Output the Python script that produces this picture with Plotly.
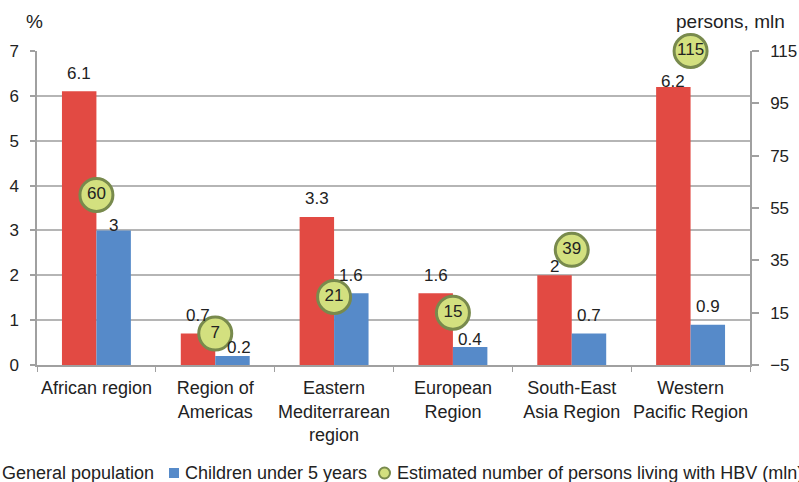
import plotly.graph_objects as go

# Data
regions = [
    "African region",
    "Region of<br>Americas",
    "Eastern<br>Mediterrarean<br>region",
    "European<br>Region",
    "South-East<br>Asia Region",
    "Western<br>Pacific Region",
]
general_population = [6.1, 0.7, 3.3, 1.6, 2, 6.2]
children_under_5 = [3, 0.2, 1.6, 0.4, 0.7, 0.9]
hbv_persons_mln = [60, 7, 21, 15, 39, 115]

left_ticks = [0, 1, 2, 3, 4, 5, 6, 7]
right_ticks = [-5, 15, 35, 55, 75, 95, 115]

# Styling
RED = "#e24a43"
BLUE = "#568ac9"
MARKER_FILL = "#d3e07f"
MARKER_LINE = "#788a4d"
TEXT = "#222222"
GRID = "#b5b5b5"
AXIS = "#a0a0a0"
FONT = "Liberation Sans, Arial, sans-serif"

W, H = 799, 482
M = dict(l=37, r=49, t=51, b=117)
PW = W - M["l"] - M["r"]
PH = H - M["t"] - M["b"]


def px_x(px):
    return (px - M["l"]) / PW


def px_y(py):
    return (H - M["b"] - py) / PH


fig = go.Figure()

fig.add_trace(go.Bar(
    x=regions, y=general_population, name="General population",
    marker=dict(color=RED, line=dict(width=0)), showlegend=False,
))
fig.add_trace(go.Bar(
    x=regions, y=children_under_5, name="Children under 5 years",
    marker=dict(color=BLUE, line=dict(width=0)), showlegend=False,
))
fig.add_trace(go.Scatter(
    x=regions, y=hbv_persons_mln, yaxis="y2", mode="markers+text",
    name="Estimated number of persons living with HBV (mln)",
    text=[f"{v:g}" for v in hbv_persons_mln],
    textposition="middle center",
    textfont=dict(family=FONT, size=17, color=TEXT),
    marker=dict(size=33, color=MARKER_FILL, line=dict(color=MARKER_LINE, width=3)),
    showlegend=False, cliponaxis=False,
))

# Value labels above bars; a few are nudged clear of the circles
BAR_OFFSET = 17.25
DEFAULT_RISE = 18
red_nudge = {4: (0, 9), 5: (0, 5)}
blue_nudge = {0: (0, 4.5), 1: (6, 8.5), 3: (0, 8)}

annotations = []
for series, sign, nudge in ((general_population, -1, red_nudge), (children_under_5, 1, blue_nudge)):
    for i, (cat, val) in enumerate(zip(regions, series)):
        dx, rise = nudge.get(i, (0, DEFAULT_RISE))
        annotations.append(dict(
            x=cat, y=val, xref="x", yref="y", text=f"{val:g}", showarrow=False,
            xanchor="center", yanchor="middle",
            xshift=sign * BAR_OFFSET + dx, yshift=rise,
            font=dict(family=FONT, size=17, color=TEXT),
        ))

# Axis unit captions
annotations.append(dict(
    x=px_x(34), y=px_y(21), xref="paper", yref="paper", text="%", showarrow=False,
    xanchor="center", yanchor="middle", font=dict(family=FONT, size=19, color=TEXT),
))
annotations.append(dict(
    x=px_x(730), y=px_y(21), xref="paper", yref="paper", text="persons, mln", showarrow=False,
    xanchor="center", yanchor="middle", font=dict(family=FONT, size=19, color=TEXT),
))

# Legend row drawn below the plot
legend_y = 473
legend_items = [
    ("General population", "rect", RED, -15, 0),
    ("Children under 5 years", "rect", BLUE, 169, 183),
    ("Estimated number of persons living with HBV (mln)", "circle", MARKER_FILL, 379, 395),
]
shapes = []
for label, kind, color, sx, tx in legend_items:
    if kind == "rect":
        shapes.append(dict(
            type="rect", xref="paper", yref="paper",
            x0=px_x(sx), x1=px_x(sx + 10), y0=px_y(legend_y + 5), y1=px_y(legend_y - 5),
            fillcolor=color, line=dict(width=0),
        ))
    else:
        shapes.append(dict(
            type="circle", xref="paper", yref="paper",
            x0=px_x(sx), x1=px_x(sx + 11), y0=px_y(legend_y + 5.5), y1=px_y(legend_y - 5.5),
            fillcolor=color, line=dict(color=MARKER_LINE, width=2),
        ))
    annotations.append(dict(
        x=px_x(tx), y=px_y(legend_y), xref="paper", yref="paper", text=label,
        showarrow=False, xanchor="left", yanchor="middle",
        font=dict(family=FONT, size=18, color=TEXT),
    ))

fig.update_layout(
    width=W, height=H, autosize=False, margin=M,
    paper_bgcolor="white", plot_bgcolor="white",
    barmode="group", bargap=0.42, bargroupgap=0,
    font=dict(family=FONT, size=16, color=TEXT),
    annotations=annotations, shapes=shapes,
    showlegend=False,
    xaxis=dict(
        type="category", showline=True, linecolor=AXIS, linewidth=1.5,
        ticks="outside", tickson="boundaries", ticklen=5, tickcolor=AXIS, tickwidth=1,
        tickfont=dict(family=FONT, size=18, color=TEXT), showgrid=False,
        tickangle=0, automargin=False, ticklabelstandoff=6,
    ),
    yaxis=dict(
        range=[0, 7], tickvals=left_ticks, showline=True, linecolor=AXIS, linewidth=1.5,
        ticks="outside", ticklen=5, tickcolor=AXIS, tickwidth=1.5,
        showgrid=True, gridcolor=GRID, gridwidth=1.5, zeroline=False, automargin=False,
        tickfont=dict(family=FONT, size=17, color=TEXT), ticklabelstandoff=8,
    ),
    yaxis2=dict(
        range=[-5, 115], tickvals=right_ticks, overlaying="y", side="right",
        showline=True, linecolor=AXIS, linewidth=1.5,
        ticks="outside", ticklen=7, tickcolor=AXIS, tickwidth=1.5,
        showgrid=False, zeroline=False, automargin=False,
        tickfont=dict(family=FONT, size=17, color=TEXT), ticklabelstandoff=8,
    ),
)

fig.write_html("out.html")
